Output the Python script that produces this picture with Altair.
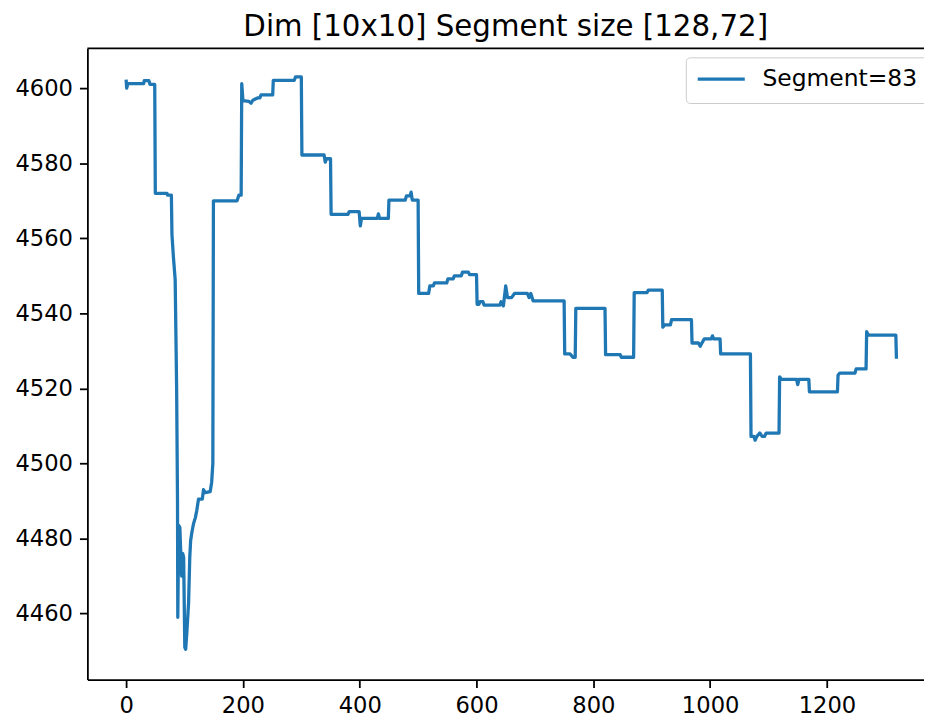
import altair as alt
import pandas as pd

# x positions (iteration index) of the line's vertices
x_vals = [
    0, 1, 3, 30, 31, 39, 41, 49, 50, 70,
    71, 77.5, 78.5, 81, 84, 86.5, 88, 88.5, 90, 92,
    95, 97, 98.5, 100.5, 102, 104, 107, 109, 110.5, 113,
    115.5, 118.5, 121, 124, 130.5, 132.5, 135.5, 144, 146.5, 148.5,
    149.5, 190, 193, 197, 198, 200, 210, 214, 217, 225,
    229, 231, 251, 252, 288, 290, 300, 301, 339, 341,
    343, 350, 351, 380, 382, 399, 401, 403, 430, 432,
    434, 449, 450, 478, 480, 486, 488, 490, 500, 501,
    518, 520, 526, 528, 549, 551, 560, 562, 574, 576,
    586, 588, 600, 601, 604, 606, 611, 613, 640, 642,
    646, 650, 653, 660, 665, 687, 690, 693, 697, 750,
    751, 760, 765, 769, 770, 820, 821, 846, 848, 869,
    870, 892, 894, 918, 919, 922, 932, 934, 968, 969,
    980, 983, 986, 990, 1002, 1004, 1006, 1017, 1018, 1069,
    1070, 1075, 1077, 1080, 1085, 1089, 1093, 1096, 1118, 1119,
    1122, 1148, 1150, 1152, 1169, 1170, 1218, 1219, 1222, 1248,
    1250, 1267, 1268, 1271, 1318, 1319,
]

# y values at those vertices
y_vals = [
    4602.3, 4600, 4601.2, 4601.2, 4602, 4602, 4601, 4601, 4572, 4572,
    4571.5, 4571.5, 4561, 4555, 4549, 4520, 4490, 4459, 4483.5, 4483,
    4470, 4476, 4475, 4451, 4450.5, 4455, 4463, 4475, 4479.5, 4482,
    4484, 4485.5, 4487.5, 4490.5, 4490.5, 4493, 4492.2, 4492.5, 4495, 4500,
    4570, 4570, 4571.5, 4571.5, 4601.2, 4596.7, 4596.5, 4596, 4596.8, 4597.4,
    4597.4, 4598.2, 4598.2, 4602.1, 4602.1, 4603, 4603, 4582.2, 4582.2, 4580.3,
    4581.2, 4581.2, 4566.4, 4566.4, 4567.1, 4567.1, 4563.3, 4565.3, 4565.3, 4566.5,
    4565.3, 4565.3, 4570.2, 4570.2, 4571.3, 4571.3, 4572.3, 4570.2, 4570.2, 4545.3,
    4545.3, 4547.3, 4547.3, 4548.1, 4548.1, 4549.2, 4549.2, 4550, 4550, 4551,
    4551, 4550.3, 4550.3, 4542.4, 4542.4, 4543.1, 4543.1, 4542.2, 4542.2, 4543.1,
    4542, 4547.3, 4544.2, 4544.2, 4545.3, 4545.3, 4544.2, 4545.3, 4543.3, 4543.3,
    4529.2, 4529.2, 4528.3, 4528.3, 4541.3, 4541.3, 4529, 4529, 4528.3, 4528.3,
    4545.5, 4545.5, 4546.2, 4546.2, 4536.3, 4536.9, 4536.9, 4538.3, 4538.3, 4532.1,
    4532.1, 4531.2, 4532.1, 4533.2, 4533.2, 4534, 4533.2, 4533.2, 4529.2, 4529.2,
    4507.2, 4507.2, 4506.2, 4507.2, 4508.1, 4507.2, 4507.2, 4508.1, 4508.1, 4523.1,
    4522.4, 4522.4, 4521, 4522.4, 4522.4, 4519.1, 4519.1, 4523.5, 4524.1, 4524.1,
    4525.2, 4525.2, 4535.1, 4534.2, 4534.2, 4527.9,
]

series_name = "Segment=83"
title_text = "Dim [10x10] Segment size [128,72]"
x_ticks = [0, 200, 400, 600, 800, 1000, 1200]
y_ticks = [4460, 4480, 4500, 4520, 4540, 4560, 4580, 4600]

assert len(x_vals) == len(y_vals)

df = pd.DataFrame({
    "idx": list(range(len(x_vals))),
    "x": x_vals,
    "y": y_vals,
    "series": [series_name] * len(x_vals),
})

FONT = "DejaVu Sans"
FS = 22.8
PLOT_W = 843
PLOT_H = 636

x_scale = alt.Scale(domain=[-66.3, 1366.2], nice=False, zero=False)
y_scale = alt.Scale(domain=[4442.4, 4610.6], nice=False, zero=False)

line = alt.Chart(df).mark_line(strokeWidth=3.3, clip=True, strokeJoin="round").encode(
    x=alt.X("x:Q", scale=x_scale,
            axis=alt.Axis(values=x_ticks, title=None, grid=False, format="d")),
    y=alt.Y("y:Q", scale=y_scale,
            axis=alt.Axis(values=y_ticks, title=None, grid=False, format="d")),
    order="idx:Q",
    color=alt.Color(
        "series:N",
        scale=alt.Scale(range=["#1f77b4"]),
        legend=alt.Legend(
            title=None,
            orient="none",
            legendX=603,
            legendY=9,
            symbolType="stroke",
            symbolSize=2704,
            symbolStrokeWidth=3.3,
            symbolOffset=-6.6,
            labelFontSize=23.6,
            labelFont=FONT,
            labelColor="black",
            labelOffset=15.8,
            padding=12,
            clipHeight=20,
            strokeColor="#cccccc",
            fillColor="white",
            cornerRadius=4,
        ),
    ),
)

top_spine = alt.Chart(pd.DataFrame({"k": [0]})).mark_rule(
    color="black", strokeWidth=1.8
).encode(y=alt.value(0))

title_mark = alt.Chart(pd.DataFrame({"t": [title_text]})).mark_text(
    font=FONT, fontSize=29.5, color="black", align="center",
    baseline="alphabetic", clip=False,
).encode(text="t:N", x=alt.value(PLOT_W / 2), y=alt.value(-13))

chart = alt.layer(line, top_spine, title_mark).properties(
    width=PLOT_W,
    height=PLOT_H,
    padding={"left": 80, "top": 38, "right": 0, "bottom": 40},
    autosize=alt.AutoSizeParams(type="none"),
).configure_view(
    stroke=None
).configure_axis(
    domainColor="black",
    domainWidth=1.8,
    tickColor="black",
    tickWidth=1.8,
    tickSize=8,
    labelPadding=7,
    labelFont=FONT,
    labelFontSize=FS,
    labelColor="black",
)

chart.save("out.html", embed_options={"renderer": "svg", "actions": False})
